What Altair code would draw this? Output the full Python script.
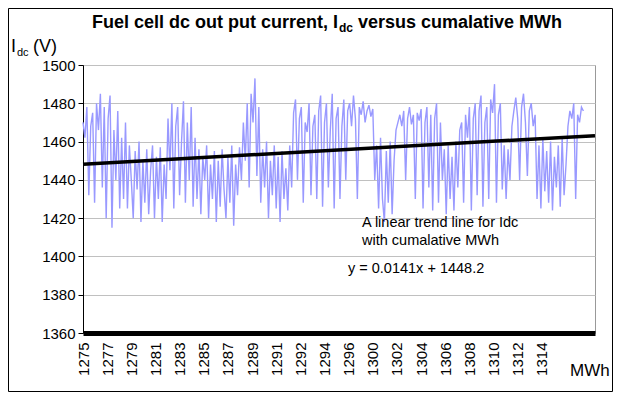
import altair as alt
import pandas as pd

# Idc readings (V), one every 4 category positions
idc_values = [
    1470, 1462, 1478, 1432, 1468, 1475, 1428, 1480, 1466, 1485,
    1436, 1478, 1420, 1472, 1484, 1415, 1466, 1440, 1476, 1425, 1462, 1430, 1470,
    1425, 1458, 1440, 1420, 1455, 1435, 1460, 1418, 1450, 1428, 1456, 1422, 1445, 1458, 1420, 1452, 1430, 1457, 1418, 1448,
    1430, 1472, 1445, 1480, 1425, 1468, 1478, 1432, 1460, 1481, 1428, 1470, 1440, 1478, 1426, 1462,
    1430, 1456, 1422, 1452, 1440, 1458, 1420, 1448, 1430, 1455, 1418, 1450, 1426, 1456, 1435, 1420, 1452, 1428, 1458, 1416, 1448, 1432, 1457,
    1440, 1470, 1450, 1480, 1436, 1485, 1470, 1493, 1442, 1478,
    1428, 1456, 1436, 1460, 1420, 1450, 1432, 1458, 1425, 1452, 1418, 1455, 1430, 1446, 1424, 1458,
    1436, 1475, 1482, 1440, 1472, 1478, 1428, 1470, 1465, 1480, 1432, 1468, 1474,
    1430, 1476, 1484, 1426, 1470, 1480, 1436, 1466, 1485, 1425, 1472, 1478, 1430, 1468, 1482, 1440,
    1476, 1480, 1468, 1484, 1472, 1430, 1478, 1474, 1481, 1470, 1476, 1479, 1473, 1477,
    1440, 1458, 1425, 1462, 1430, 1418, 1455, 1428, 1460, 1422, 1450, 1466,
    1470, 1474, 1468, 1476, 1440, 1472, 1478, 1469, 1474, 1430, 1475, 1471, 1477, 1425, 1470, 1478, 1436, 1474, 1424, 1472, 1480, 1428, 1470,
    1440, 1456, 1422, 1458, 1430, 1452, 1424, 1460,
    1436, 1466, 1470, 1428, 1474, 1462, 1478, 1424, 1472, 1480, 1432, 1476, 1484, 1426, 1470, 1478, 1430, 1482, 1475, 1490, 1428, 1474, 1480,
    1435, 1458, 1430, 1456, 1440,
    1468, 1476, 1483, 1472, 1440, 1478, 1485, 1470, 1442, 1476, 1480, 1468, 1474,
    1430, 1458, 1425, 1462, 1434, 1455, 1428, 1460, 1424, 1452, 1436, 1458, 1426, 1462, 1432, 1448,
    1468, 1476, 1472, 1480, 1430, 1474, 1470, 1478, 1476,
]
step = 4
n_categories = 1060

trend_x = [0, 1060]
trend_y = [1448.2, 1463.1]

tick_labels = ["1275", "1277", "1279", "1281", "1283", "1285", "1287", "1289", "1291", "1292",
               "1294", "1296", "1300", "1302", "1304", "1306", "1308", "1310", "1312", "1314"]
label_every = 50
y_ticks = [1360, 1380, 1400, 1420, 1440, 1460, 1480, 1500]

FONT = "Liberation Sans"
W, H = 512, 268

df = pd.DataFrame({"idx": [i * step for i in range(len(idc_values))], "idc": idc_values})
tdf = pd.DataFrame({"idx": trend_x, "idc": trend_y})

label_arr = "[" + ",".join("'%s'" % l for l in tick_labels) + "]"
xenc = alt.X("idx:Q",
             scale=alt.Scale(domain=[0, n_categories], nice=False, zero=False),
             axis=alt.Axis(values=[i * label_every for i in range(len(tick_labels))],
                           labelExpr=label_arr + "[round(datum.value/%d)]" % label_every,
                           labelAngle=270, labelAlign="right", labelBaseline="middle",
                           labelPadding=9, ticks=False, grid=False,
                           domainColor="black", domainWidth=5,
                           labelFont=FONT, labelFontSize=15, labelColor="black",
                           title=None))
yenc = alt.Y("idc:Q",
             scale=alt.Scale(domain=[1360, 1500], nice=False, zero=False),
             axis=alt.Axis(values=y_ticks, format="d", grid=True, gridColor="#c0c0c0",
                           domainColor="black", tickColor="black", tickSize=5,
                           labelPadding=3, labelFont=FONT, labelFontSize=15,
                           labelColor="black", title=None))

series = alt.Chart(df).mark_line(color="#9999ff", strokeWidth=1.4).encode(x=xenc, y=yenc)
trend = alt.Chart(tdf).mark_line(color="black", strokeWidth=3.5).encode(x=xenc, y=yenc)


def txt(s, x, y, size, bold=False, align="left"):
    return alt.Chart(pd.DataFrame({"a": [0]})).mark_text(
        align=align, baseline="alphabetic", font=FONT, fontSize=size,
        fontWeight="bold" if bold else "normal", color="black"
    ).encode(x=alt.value(x), y=alt.value(y), text=alt.value(s))


frame = alt.Chart(pd.DataFrame({"a": [0]})).mark_rect(
    fillOpacity=0, stroke="black", strokeWidth=1
).encode(x=alt.value(-74.5), x2=alt.value(W + 17.5), y=alt.value(-56.5), y2=alt.value(H + 58.5))

texts = [
    txt("Fuel cell dc out put current, I", 255, -37, 18, bold=True, align="right"),
    txt("dc", 256, -33, 12, bold=True),
    txt("versus cumalative MWh", 275, -37, 18, bold=True),
    txt("I", -72, -13, 18),
    txt("dc", -66, -9, 11),
    txt("(V)", -50, -13, 18),
    txt("A linear trend line for Idc", 279, 162, 14.5),
    txt("with cumalative MWh", 279, 180, 14.5),
    txt("y = 0.0141x + 1448.2", 265, 208, 14.5),
    txt("MWh", 487, 311, 17),
]

chart = alt.layer(series, trend, frame, *texts).properties(
    width=W, height=H,
    autosize=alt.AutoSizeParams(type="none"),
    padding={"left": 75, "top": 57, "right": 18, "bottom": 59},
    background="white",
).configure_view(stroke="#999999")

chart.save("out.html", embed_options={"renderer": "svg", "actions": False})
